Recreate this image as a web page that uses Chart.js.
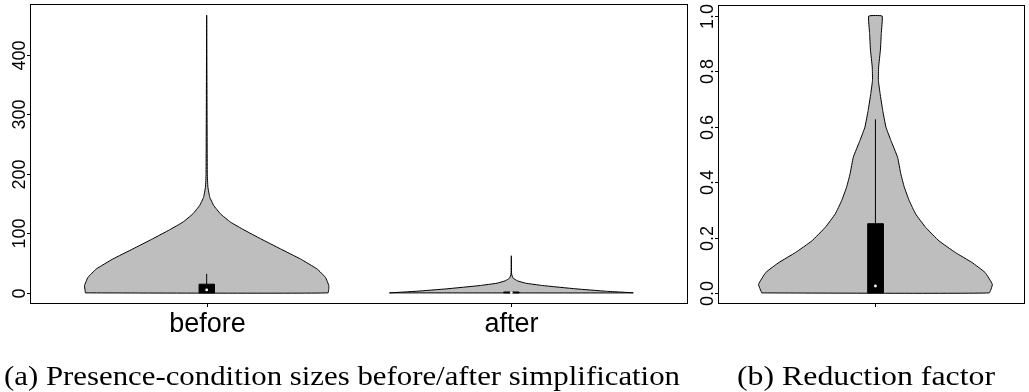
<!DOCTYPE html>
<html>
<head>
<meta charset="utf-8">
<script src="https://cdn.jsdelivr.net/npm/chart.js@4.4.1/dist/chart.umd.min.js"></script>
<style>
    html, body { margin: 0; padding: 0; background: #fff; overflow: hidden; }
    body { width: 1029px; height: 392px; position: relative; }
    #cA { position: absolute; left: 0; top: 0; }
    #cB { position: absolute; left: 692px; top: 0; }
</style>
</head>
<body>
<canvas id="cA" width="692" height="392"></canvas>
<canvas id="cB" width="337" height="392"></canvas>
<script>
// ---- data ----
const categories = ['before', 'after'];
const yTicksSizes = [0, 100, 200, 300, 400];
const yTicksFactor = [0.0, 0.2, 0.4, 0.6, 0.8, 1.0];

// violin outlines: value levels and half widths (in x-axis units, max 0.4)
const beforeLevels = [0, 12, 26, 40, 57, 74, 91, 106, 119, 133, 147, 161, 178, 200, 467];
const beforeHalf   = [0.398, 0.401, 0.390, 0.363, 0.308, 0.242, 0.177, 0.122, 0.078, 0.045, 0.023, 0.010, 0.004, 0.002, 0];
const afterLevels  = [0, 2.8, 6.8, 12.4, 16.3, 20.3, 24.8, 31.5, 62.4];
const afterHalf    = [0.400, 0.310, 0.212, 0.102, 0.047, 0.020, 0.006, 0.001, 0];
const factorLevels = [0, 0.031, 0.074, 0.110, 0.146, 0.188, 0.237, 0.285, 0.333, 0.382, 0.430, 0.490, 0.551, 0.599, 0.659, 0.720, 0.768, 0.816, 0.877, 0.937, 1.0];
const factorHalf   = [0.390, 0.401, 0.376, 0.331, 0.274, 0.218, 0.172, 0.138, 0.116, 0.099, 0.087, 0.076, 0.053, 0.036, 0.025, 0.016, 0.010, 0.011, 0.017, 0.020, 0.023];

// box plots: [q1, median, q3, upper whisker]
const beforeBox = [0, 5, 14.6, 32];
const afterBox  = [0, 0.5, 1.5, 1.5];
const factorBox = [0, 0.025, 0.25, 0.627];

const GREY = '#bebebe';

function violinPoints(center, levels, half) {
    const left = levels.map((v, i) => ({ x: center - half[i], y: v }));
    let right = levels.map((v, i) => ({ x: center + half[i], y: v })).reverse();
    if (half[half.length - 1] === 0) right = right.slice(1);
    return left.concat(right, [left[0]]);
}

function boxPoints(center, w, box) {
    return [
        { x: center - w, y: box[0] }, { x: center - w, y: box[2] },
        { x: center + w, y: box[2] }, { x: center + w, y: box[0] },
        { x: center - w, y: box[0] }
    ];
}

function violinSets(center, levels, half, box, boxW) {
    return [
        { data: [{ x: center, y: box[1] }], showLine: false, pointRadius: 1.4,
          pointBackgroundColor: '#fff', pointBorderWidth: 0, order: 1 },
        { data: boxPoints(center, boxW, box), fill: 'shape', backgroundColor: '#000',
          borderColor: '#000', borderWidth: 1, pointRadius: 0, tension: 0, order: 2 },
        { data: [{ x: center, y: box[2] }, { x: center, y: box[3] }], fill: false,
          borderColor: '#000', borderWidth: 1, pointRadius: 0, order: 3 },
        { data: violinPoints(center, levels, half), fill: 'shape', backgroundColor: GREY,
          borderColor: '#000', borderWidth: 1, pointRadius: 0, tension: 0.1, order: 4 }
    ];
}

// R-style frame, ticks, labels and caption
const rAxes = {
    id: 'rAxes',
    afterDraw(chart, args, o) {
        const { ctx, chartArea: a, scales: { x, y } } = chart;
        ctx.save();
        ctx.strokeStyle = '#000';
        ctx.lineWidth = 1;
        ctx.strokeRect(a.left + 0.5, a.top + 0.5, a.right - a.left - 1, a.bottom - a.top - 1);

        ctx.fillStyle = '#000';
        ctx.font = '18px "Liberation Sans", Arial, sans-serif';
        o.yTicks.forEach(v => {
            const py = Math.round(y.getPixelForValue(v)) + 0.5;
            ctx.beginPath(); ctx.moveTo(a.left - 3, py); ctx.lineTo(a.left, py); ctx.stroke();
            ctx.save();
            ctx.translate(a.left - 5, py);
            ctx.rotate(-Math.PI / 2);
            ctx.textAlign = 'center';
            ctx.textBaseline = 'alphabetic';
            ctx.fillText(o.fmt(v), 0, 0);
            ctx.restore();
        });

        ctx.font = '27px "Liberation Sans", Arial, sans-serif';
        ctx.textAlign = 'center';
        o.xTicks.forEach((v, i) => {
            const px = Math.round(x.getPixelForValue(v)) + 0.5;
            ctx.beginPath(); ctx.moveTo(px, a.bottom); ctx.lineTo(px, a.bottom + 3); ctx.stroke();
            if (o.xLabels[i]) ctx.fillText(o.xLabels[i], px, 332);
        });

        ctx.font = '27px "Liberation Serif", "DejaVu Serif", serif';
        ctx.textAlign = 'left';
        const w = ctx.measureText(o.caption).width;
        ctx.translate(o.capX0, 385);
        ctx.scale((o.capX1 - o.capX0) / w, 1);
        ctx.fillText(o.caption, 0, 0);
        ctx.restore();
    }
};

function baseOptions(pad, xr, yr, axes) {
    return {
        responsive: false,
        animation: false,
        events: [],
        layout: { padding: pad },
        scales: {
            x: { type: 'linear', display: false, min: xr[0], max: xr[1] },
            y: { type: 'linear', display: false, min: yr[0], max: yr[1] }
        },
        plugins: { legend: { display: false }, tooltip: { enabled: false }, rAxes: axes }
    };
}

new Chart(document.getElementById('cA'), {
    type: 'line',
    data: {
        datasets: [
            ...violinSets(1, beforeLevels, beforeHalf, beforeBox, 0.025),
            ...violinSets(2, afterLevels, afterHalf, afterBox, 0.025)
        ]
    },
    options: baseOptions({ left: 30, top: 4, right: 4, bottom: 392 - 304 }, [0.42, 2.58], [-18.68, 485.7], {
        yTicks: yTicksSizes, fmt: v => String(v),
        xTicks: [1, 2], xLabels: categories,
        caption: '(a) Presence-condition sizes before/after simplification', capX0: 4, capX1: 680
    }),
    plugins: [rAxes]
});

new Chart(document.getElementById('cB'), {
    type: 'line',
    data: {
        datasets: violinSets(1, factorLevels, factorHalf, factorBox, 0.0265)
    },
    options: baseOptions({ left: 26, top: 5, right: 0, bottom: 392 - 304 }, [0.46, 1.513], [-0.04, 1.04], {
        yTicks: yTicksFactor, fmt: v => v.toFixed(1),
        xTicks: [1], xLabels: [''],
        caption: '(b) Reduction factor', capX0: 45, capX1: 303
    }),
    plugins: [rAxes]
});
</script>
</body>
</html>
